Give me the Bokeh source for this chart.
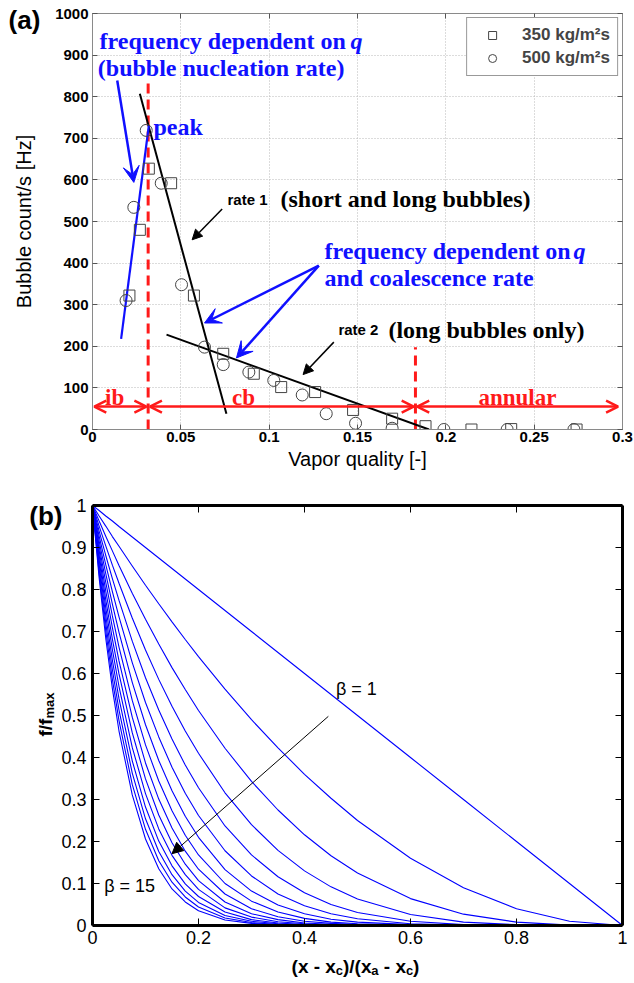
import math
from bokeh.plotting import figure
from bokeh.models import (Range1d, LinearAxis, Label, Arrow, OpenHead, VeeHead,
                          NormalHead, Legend, LegendItem, FixedTicker)
from bokeh.layouts import column
from bokeh.embed import file_html
from bokeh.resources import INLINE
from bokeh.core.properties import value

# ---------------- panel (a) data ----------------
sq_x = [0.0209, 0.0268, 0.0319, 0.0445, 0.0574, 0.074, 0.0913, 0.1068, 0.126,
        0.1475, 0.1696, 0.1885, 0.2145, 0.237, 0.274]
sq_y = [322, 480, 627, 592, 322, 182, 134, 102, 90, 47, 26, 8, 0, 1, 0]
ci_x = [0.019, 0.0234, 0.0304, 0.0389, 0.0504, 0.0634, 0.074, 0.0885, 0.1026,
        0.1187, 0.1323, 0.1489, 0.1696, 0.1989, 0.2347, 0.2725]
ci_y = [310, 534, 719, 592, 348, 198, 156, 138, 118, 83, 38, 15, 3, 0, 0, 0]

rate1_x = [0.0268, 0.0758]
rate1_y = [807, 38]
rate2_x = [0.0419, 0.1905]
rate2_y = [228, 0]
nucl_x = [0.0162, 0.0319]
nucl_y = [218, 731]

x_ib_cb = 0.0315
x_cb_an = 0.1828
dash1_y = [0, 832]
dash2_y = [0, 198]
regime_y = 55

x_ticks_a = [0, 0.05, 0.1, 0.15, 0.2, 0.25, 0.3]
x_labels_a = ["0", "0.05", "0.1", "0.15", "0.2", "0.25", "0.3"]
y_ticks_a = [0, 100, 200, 300, 400, 500, 600, 700, 800, 900, 1000]

# ---------------- panel (b) data ----------------
x_norm = [0, 0.0125, 0.025, 0.0375, 0.05, 0.075, 0.1, 0.125, 0.15, 0.175, 0.2, 0.25,
          0.3, 0.35, 0.4, 0.45, 0.5, 0.6, 0.7, 0.8, 0.9, 1.0]
f_b1 = [1, .988, .975, .963, .95, .925, .9, .875, .85, .825, .8, .75, .7, .65, .6, .55, .5, .4, .3, .2, .1, 0]
f_b2 = [1, .975, .951, .926, .903, .856, .81, .766, .723, .681, .64, .563, .49, .423, .36, .303, .25, .16, .09, .04, .01, 0]
f_b3 = [1, .963, .927, .892, .857, .791, .729, .67, .614, .562, .512, .422, .343, .275, .216, .166, .125, .064, .027, .008, .001, 0]
f_b4 = [1, .951, .904, .858, .815, .732, .656, .586, .522, .463, .41, .316, .24, .179, .13, .092, .063, .026, .008, .002, 0, 0]
f_b5 = [1, .939, .881, .826, .774, .677, .59, .513, .444, .382, .328, .237, .168, .116, .078, .05, .031, .01, .002, 0, 0, 0]
f_b6 = [1, .927, .859, .795, .735, .626, .531, .449, .377, .315, .262, .178, .118, .075, .047, .028, .016, .004, .001, 0, 0, 0]
f_b7 = [1, .916, .838, .765, .698, .579, .478, .393, .321, .26, .21, .133, .082, .049, .028, .015, .008, .002, 0, 0, 0, 0]
f_b8 = [1, .904, .817, .737, .663, .536, .43, .344, .273, .215, .168, .1, .058, .032, .017, .008, .004, .001, 0, 0, 0, 0]
f_b9 = [1, .893, .796, .709, .63, .496, .387, .301, .232, .177, .134, .075, .04, .021, .01, .005, .002, 0, 0, 0, 0, 0]
f_b10 = [1, .882, .776, .682, .599, .459, .349, .263, .197, .146, .107, .056, .028, .014, .006, .003, .001, 0, 0, 0, 0, 0]
f_b11 = [1, .871, .757, .657, .569, .424, .314, .23, .167, .121, .086, .042, .02, .009, .004, .001, 0, 0, 0, 0, 0, 0]
f_b12 = [1, .86, .738, .632, .54, .392, .282, .201, .142, .099, .069, .032, .014, .006, .002, .001, 0, 0, 0, 0, 0, 0]
f_b13 = [1, .849, .72, .609, .513, .363, .254, .176, .121, .082, .055, .024, .01, .004, .001, 0, 0, 0, 0, 0, 0, 0]
f_b14 = [1, .839, .702, .586, .488, .336, .229, .154, .103, .068, .044, .018, .007, .002, .001, 0, 0, 0, 0, 0, 0, 0]
f_b15 = [1, .828, .684, .564, .463, .311, .206, .135, .087, .056, .035, .013, .005, .002, 0, 0, 0, 0, 0, 0, 0, 0]
curves_b = [f_b1, f_b2, f_b3, f_b4, f_b5, f_b6, f_b7, f_b8, f_b9, f_b10,
            f_b11, f_b12, f_b13, f_b14, f_b15]

x_ticks_b = [0, 0.2, 0.4, 0.6, 0.8, 1.0]
x_labels_b = ["0", "0.2", "0.4", "0.6", "0.8", "1"]
y_ticks_b = [0, 0.1, 0.2, 0.3, 0.4, 0.5, 0.6, 0.7, 0.8, 0.9, 1.0]
y_labels_b = ["0", "0.1", "0.2", "0.3", "0.4", "0.5", "0.6", "0.7", "0.8", "0.9", "1"]

SANS = "Liberation Sans"
SERIF = "Liberation Serif"
BLUE = "#1010ff"
RED = "#ff1a1a"


def lab(p, x, y, t, font, style, size, color, align="left", baseline="middle", angle=0):
    p.add_layout(Label(x=x, y=y, text=t, text_font=font, text_font_style=style,
                       text_font_size=size, text_color=color, text_align=align,
                       text_baseline=baseline, angle=angle))


def otext(p, x, y, t, font, style, size, color, align="left", baseline="middle", angle=0):
    # text outside the frame: drawn as a glyph at overlay level (not clipped)
    r = p.text(x=[x], y=[y], text=[t], text_font=value(font), text_font_style=style,
               text_font_size=size, text_color=color, text_align=align,
               text_baseline=baseline, angle=angle)
    r.level = "overlay"
    return r


# =============== figure (a) ===============
W = 634
H1 = 478
p1 = figure(width=W, height=H1, x_range=Range1d(0, 0.3), y_range=Range1d(0, 1000),
            output_backend="svg", toolbar_location=None,
            min_border_left=92, min_border_right=12, min_border_top=13,
            min_border_bottom=H1 - 429)
p1.outline_line_color = "#8a8a8a"

for ax in (p1.xaxis[0], p1.yaxis[0]):
    ax.axis_line_color = "#8a8a8a"
    ax.major_tick_line_color = "#555555"
    ax.major_tick_in = 5
    ax.major_tick_out = 0
    ax.minor_tick_line_color = None
    ax.major_label_text_font = SANS
    ax.major_label_text_font_style = "bold"
    ax.major_label_text_font_size = "15px"
    ax.major_label_text_color = "black"
    ax.axis_label_text_font = SANS
    ax.axis_label_text_font_style = "normal"
    ax.axis_label_text_font_size = "20px"
    ax.axis_label_text_color = "black"

p1.xaxis[0].ticker = FixedTicker(ticks=x_ticks_a)
p1.xaxis[0].major_label_overrides = {t: l for t, l in zip(x_ticks_a, x_labels_a)}
p1.xaxis[0].axis_label = "Vapor quality [-]"
p1.xaxis[0].major_label_standoff = 2
p1.xaxis[0].axis_label_standoff = 3
p1.yaxis[0].ticker = FixedTicker(ticks=y_ticks_a)
p1.yaxis[0].axis_label = "Bubble count/s [Hz]"
p1.yaxis[0].major_label_standoff = 4
p1.yaxis[0].axis_label_standoff = 17

for loc, tk in (("above", x_ticks_a), ("right", y_ticks_a)):
    ax = LinearAxis(ticker=FixedTicker(ticks=tk), axis_line_color="#8a8a8a",
                    major_tick_line_color="#555555", major_tick_in=5, major_tick_out=0,
                    minor_tick_line_color=None, major_label_text_font_size="0px",
                    major_label_standoff=0)
    p1.add_layout(ax, loc)

p1.xgrid.ticker = FixedTicker(ticks=x_ticks_a)
p1.ygrid.ticker = FixedTicker(ticks=y_ticks_a)
for g in (p1.xgrid[0], p1.ygrid[0]):
    g.grid_line_color = "#b8b8b8"
    g.grid_line_dash = "1 2"
    g.grid_line_width = 1

# regime boundaries (red dashed)
p1.line([x_ib_cb, x_ib_cb], dash1_y, line_color=RED, line_width=3, line_dash="10 6")
p1.line([x_cb_an, x_cb_an], dash2_y, line_color=RED, line_width=3, line_dash="10 6")

# fitted lines
p1.line(rate1_x, rate1_y, line_color="black", line_width=2)
p1.line(rate2_x, rate2_y, line_color="black", line_width=2)
p1.line(nucl_x, nucl_y, line_color=BLUE, line_width=2.2)

# data
r_sq = p1.scatter(sq_x, sq_y, marker="square", size=11, fill_color=None,
                  line_color="#444444", line_width=1)
r_ci = p1.scatter(ci_x, ci_y, marker="circle", size=12, fill_color=None,
                  line_color="#444444", line_width=1)

legend = Legend(items=[LegendItem(label="350 kg/m²s", renderers=[r_sq]),
                       LegendItem(label="500 kg/m²s", renderers=[r_ci])],
                location="top_right", margin=4, padding=7, spacing=3,
                border_line_color="#333333", border_line_width=1,
                label_text_font=SANS, label_text_font_style="bold",
                label_text_font_size="17px", glyph_width=36, glyph_height=20,
                label_height=20, label_standoff=12, background_fill_alpha=1)
p1.add_layout(legend)

# regime arrows
for xs, xe in ((0, x_ib_cb), (x_ib_cb, x_cb_an), (x_cb_an, 0.2985)):
    p1.add_layout(Arrow(start=OpenHead(size=12, line_color=RED, line_width=2.5),
                        end=OpenHead(size=12, line_color=RED, line_width=2.5),
                        x_start=xs + 0.001, y_start=regime_y, x_end=xe - 0.001, y_end=regime_y,
                        line_color=RED, line_width=2.5))

regime_text = [("ib", 0.0125), ("cb", 0.0855), ("annular", 0.2405)]
for t, xc in regime_text:
    lab(p1, xc, 78, t, SERIF, "bold", "23px", RED, align="center")

# blue annotation arrows
blue_arrows = [((0.014, 839), (0.0234, 594)),
               ((0.1281, 394), (0.0634, 256)),
               ((0.1281, 394), (0.0815, 172))]
for (x0, y0), (x1, y1) in blue_arrows:
    p1.add_layout(Arrow(end=VeeHead(size=16, fill_color=BLUE, line_color=BLUE, line_width=1),
                        x_start=x0, y_start=y0, x_end=x1, y_end=y1,
                        line_color=BLUE, line_width=2.5))

black_arrows = [((0.0734, 530), (0.0564, 456)),
                ((0.1366, 210), (0.1192, 132))]
for (x0, y0), (x1, y1) in black_arrows:
    p1.add_layout(Arrow(end=NormalHead(size=10, fill_color="black", line_color="black"),
                        x_start=x0, y_start=y0, x_end=x1, y_end=y1,
                        line_color="black", line_width=1.5))

lab(p1, 0.004, 935, "frequency dependent on", SERIF, "bold", "24px", BLUE)
lab(p1, 0.146, 935, "q", SERIF, "bold italic", "24px", BLUE)
lab(p1, 0.003, 870, "(bubble nucleation rate)", SERIF, "bold", "24px", BLUE)
lab(p1, 0.0345, 726, "peak", SERIF, "bold", "24px", BLUE)
lab(p1, 0.1313, 430, "frequency dependent on", SERIF, "bold", "24px", BLUE)
lab(p1, 0.2723, 430, "q", SERIF, "bold italic", "24px", BLUE)
lab(p1, 0.1313, 363, "and coalescence rate", SERIF, "bold", "24px", BLUE)
lab(p1, 0.0764, 553, "rate 1", SANS, "bold", "15px", "black")
lab(p1, 0.1064, 553, "(short and long bubbles)", SERIF, "bold", "24px", "black")
lab(p1, 0.1392, 240, "rate 2", SANS, "bold", "15px", "black")
lab(p1, 0.1675, 240, "(long bubbles only)", SERIF, "bold", "24px", "black")
otext(p1, -0.0385, 985, "(a)", SANS, "bold", "26px", "black", align="center")

# =============== figure (b) ===============
H2 = 983 - H1
FT, FB, FL, FR = 505 - H1, 983 - 925, 90, 12
p2 = figure(width=W, height=H2, x_range=Range1d(0, 1), y_range=Range1d(0, 1),
            output_backend="svg", toolbar_location=None,
            min_border_left=FL, min_border_right=FR, min_border_top=FT, min_border_bottom=FB)
p2.outline_line_color = None
p2.grid.visible = False
for ax in (p2.xaxis[0], p2.yaxis[0]):
    ax.axis_line_color = "black"
    ax.axis_line_width = 3
    ax.major_tick_line_color = "black"
    ax.major_tick_in = 7
    ax.major_tick_out = 0
    ax.minor_tick_line_color = None
    ax.major_label_text_font = SANS
    ax.major_label_text_font_size = "18px"
    ax.major_label_text_color = "black"
p2.xaxis[0].ticker = FixedTicker(ticks=x_ticks_b)
p2.xaxis[0].major_label_overrides = {t: l for t, l in zip(x_ticks_b, x_labels_b)}
p2.xaxis[0].major_label_standoff = 5
p2.yaxis[0].ticker = FixedTicker(ticks=y_ticks_b)
p2.yaxis[0].major_label_overrides = {t: l for t, l in zip(y_ticks_b, y_labels_b)}
p2.yaxis[0].major_label_standoff = 6
for loc, tk in (("above", x_ticks_b), ("right", y_ticks_b)):
    ax = LinearAxis(ticker=FixedTicker(ticks=tk), axis_line_color="black", axis_line_width=3,
                    major_tick_line_color="black", major_tick_in=7, major_tick_out=0,
                    minor_tick_line_color=None, major_label_text_font_size="0px",
                    major_label_standoff=0)
    p2.add_layout(ax, loc)

for ys in curves_b:
    p2.line(x_norm, ys, line_color="#0000ff", line_width=1.1)

p2.add_layout(Arrow(end=NormalHead(size=11, fill_color="black", line_color="black"),
                    x_start=0.445, y_start=0.498, x_end=0.150, y_end=0.171,
                    line_color="black", line_width=1))
lab(p2, 0.498, 0.564, "β = 1", SANS, "normal", "18px", "black", align="center")
lab(p2, 0.07, 0.093, "β = 15", SANS, "normal", "18px", "black", align="center")
otext(p2, -0.088, 0.976, "(b)", SANS, "bold", "26px", "black", align="center")

# axis labels built from pieces (sub-scripts)
PXX = 1.0 / 532.0   # data units per pixel (x)
PXY = 1.0 / 420.0   # data units per pixel (y)
AW = {'(': 0.333, ')': 0.333, 'x': 0.556, ' ': 0.278, '-': 0.333, '/': 0.278,
      'c': 0.556, 'a': 0.556, 'f': 0.333, 'm': 0.889}


def tw(s, fs):
    return sum(AW[c] for c in s) * fs


FS, FSS = 19, 13
pieces = [("(x - x", False), ("c", True), (")/(x", False), ("a", True),
          (" - x", False), ("c", True), (")", False)]
total = sum(tw(s, FSS if sub else FS) for s, sub in pieces)
cx = 354 - total / 2.0
base_y = 966
for s, sub in pieces:
    fs = FSS if sub else FS
    yy = base_y + (4 if sub else 0)
    lead = len(s) - len(s.lstrip(" "))
    draw_x = cx + tw(" " * lead, fs)
    otext(p2, (draw_x - 90) * PXX, (925 - yy) * PXY, s.strip(" "), SANS, "bold",
          f"{fs}px", "black", baseline="alphabetic")
    cx += tw(s, fs)

# y label "f/f_max" rotated
ystart = 736
otext(p2, (43 - 90) * PXX, (925 - ystart) * PXY, "f/f", SANS, "bold", "19px", "black",
      baseline="alphabetic", angle=math.pi / 2)
ystart -= tw("f/f", 19)
otext(p2, (47 - 90) * PXX, (925 - ystart) * PXY, "max", SANS, "bold", "13px", "black",
      baseline="alphabetic", angle=math.pi / 2)

layout = column(p1, p2, spacing=0)
open("out.html", "w").write(file_html(layout, INLINE))
